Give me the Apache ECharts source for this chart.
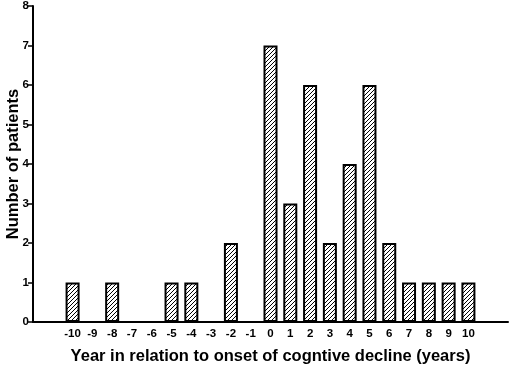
<!DOCTYPE html>
<html>
<head>
<meta charset="utf-8">
<script src="https://cdn.jsdelivr.net/npm/echarts@6/dist/echarts.min.js"></script>
<style>
  html, body { margin: 0; padding: 0; background: #fff; }
  #chart { width: 510px; height: 368px; }
</style>
</head>
<body>
<div id="chart"></div>
<script>
const years = [-10, -8, -5, -4, -2, 0, 1, 2, 3, 4, 5, 6, 7, 8, 9, 10]
const patients = [1, 1, 1, 1, 2, 7, 3, 6, 2, 4, 6, 2, 1, 1, 1, 1]
const yTicks = [0, 1, 2, 3, 4, 5, 6, 7, 8]

// diagonal hatch
function hatch() {
  const n = 4
  const c = document.createElement('canvas')
  c.width = n; c.height = n
  const g = c.getContext('2d')
  g.fillStyle = '#fff'
  g.fillRect(0, 0, n, n)
  g.strokeStyle = '#000'
  g.lineWidth = 1
  g.beginPath()
  g.moveTo(-1, n + 1); g.lineTo(n + 1, -1)
  g.moveTo(-1, 1); g.lineTo(1, -1)
  g.moveTo(n - 1, n + 1); g.lineTo(n + 1, n - 1)
  g.stroke()
  return c
}

const chart = echarts.init(document.getElementById('chart'))
const font = 'Liberation Sans, Arial, sans-serif'

chart.setOption({
  animation: false,
  grid: { left: 33, right: 2, top: 6, bottom: 46, containLabel: false, outerBoundsMode: 'none' },
  xAxis: {
    type: 'value', min: -12, max: 12, interval: 1,
    name: 'Year in relation to onset of cogntive decline (years)',
    nameLocation: 'middle', nameGap: 26,
    nameTextStyle: { color: '#000', fontFamily: font, fontWeight: 'bold', fontSize: 16.5 },
    axisLine: { onZero: false, lineStyle: { color: '#000', width: 2 } },
    axisTick: { show: false },
    splitLine: { show: false },
    axisLabel: {
      color: '#000', fontFamily: font, fontWeight: 'bold', fontSize: 11.5, margin: 6,
      formatter: v => (Math.abs(v) <= 10 ? String(v) : '')
    }
  },
  yAxis: {
    type: 'value', min: 0, max: 8, interval: 1,
    name: 'Number of patients',
    nameLocation: 'middle', nameGap: 11, nameMoveOverlap: false,
    nameTextStyle: { color: '#000', fontFamily: font, fontWeight: 'bold', fontSize: 16.5 },
    axisLine: { show: true, onZero: false, lineStyle: { color: '#000', width: 2 } },
    axisTick: { show: true, length: 5, lineStyle: { color: '#000', width: 1.5 } },
    splitLine: { show: false },
    axisLabel: {
      color: '#000', fontFamily: font, fontWeight: 'bold', fontSize: 11.5, margin: 4,
      formatter: v => (yTicks.includes(v) ? String(v) : '')
    }
  },
  series: [{
    type: 'bar',
    data: years.map((y, i) => [y, patients[i]]),
    barWidth: 14,
    itemStyle: {
      color: { image: hatch(), repeat: 'repeat' },
      borderColor: '#000', borderWidth: 2
    }
  }]
})
</script>
</body>
</html>
